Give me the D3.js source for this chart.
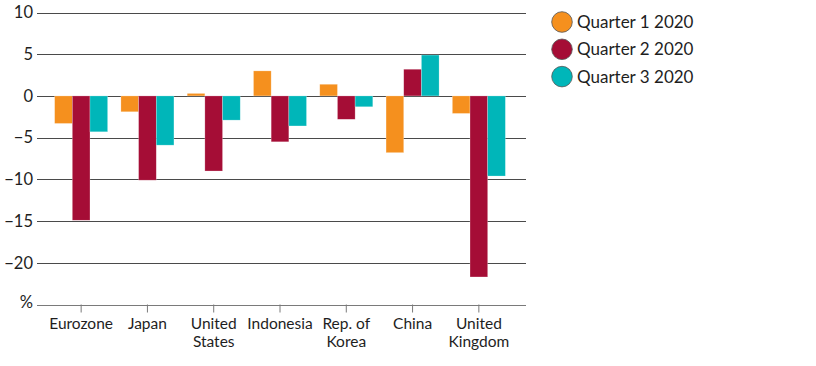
<!DOCTYPE html>
<html><head><meta charset="utf-8">
<script src="https://cdn.jsdelivr.net/npm/d3@7"></script>
<style>body{margin:0;background:#fff}svg{display:block}text{font-family:Lato,"Open Sans",sans-serif;font-weight:400;fill:#1e1e1e}</style>
</head><body><svg id="c" width="816" height="366"></svg>
<script>
const categories = [["Eurozone"],["Japan"],["United","States"],["Indonesia"],["Rep. of","Korea"],["China"],["United","Kingdom"]];
const seriesNames = ["Quarter 1 2020","Quarter 2 2020","Quarter 3 2020"];
const q1 = [-3.3, -1.9, 0.3, 3.0, 1.4, -6.8, -2.1];
const q2 = [-14.9, -10.1, -9.0, -5.5, -2.8, 3.2, -21.7];
const q3 = [-4.3, -5.9, -2.9, -3.6, -1.3, 4.9, -9.6];
const yTicks = [10, 5, 0, -5, -10, -15, -20];
const colors = ["#F5901E", "#A50D36", "#00B6B9"];

const svg = d3.select("#c");
const x0 = d3.scaleBand().domain(d3.range(categories.length)).range([48, 512]).paddingInner(0.2).paddingOuter(0.1);
const x1 = d3.scaleBand().domain(d3.range(3)).range([0, x0.bandwidth()]);
const y = d3.scaleLinear().domain([-25, 10]).range([304.5, 12.5]);

// gridlines
const gx0 = 37, gx1 = 526;
svg.append("g").selectAll("line").data(yTicks).join("line")
  .attr("x1", gx0).attr("x2", gx1)
  .attr("y1", d => Math.round(y(d)) + 0.5).attr("y2", d => Math.round(y(d)) + 0.5)
  .attr("stroke", "#4a4a4a").attr("stroke-width", 1);
// y labels
svg.append("g").selectAll("text").data(yTicks).join("text")
  .attr("x", 33).attr("y", d => y(d)).attr("dy", "0.35em").attr("text-anchor", "end")
  .attr("font-size", 16.5)
  .text(d => d < 0 ? "\u2212" + Math.abs(d) : d);
svg.append("text").attr("x", 33).attr("y", y(-25)).attr("dy", "0.2em").attr("text-anchor", "end")
  .attr("font-size", 16.5).text("%");

// bars
const data = [q1, q2, q3];
data.forEach((s, si) => {
  svg.append("g").selectAll("rect").data(s).join("rect")
    .attr("x", (d, i) => x0(i) + x1(si))
    .attr("width", x1.bandwidth())
    .attr("y", d => y(Math.max(0, d)))
    .attr("height", d => Math.abs(y(d) - y(0)))
    .attr("fill", colors[si])
    .attr("stroke", "#fff").attr("stroke-opacity", 0.4).attr("stroke-width", 0.6);
});

// x axis
const xa = svg.append("g");
xa.append("line").attr("x1", gx0).attr("x2", gx1).attr("y1", Math.round(y(-25)) + 0.5).attr("y2", Math.round(y(-25)) + 0.5)
  .attr("stroke", "#7a7a7a");
categories.forEach((c, i) => {
  const cx = x0(i) + x0.bandwidth() / 2;
  xa.append("line").attr("x1", cx).attr("x2", cx).attr("y1", y(-25)).attr("y2", y(-25) + 8).attr("stroke", "#7a7a7a");
  const t = xa.append("text").attr("x", cx).attr("y", 329).attr("text-anchor", "middle").attr("font-size", 15.5);
  c.forEach((ln, j) => t.append("tspan").attr("x", cx).attr("dy", j === 0 ? 0 : 17.5).text(ln));
});

// legend
const lg = svg.append("g");
seriesNames.forEach((n, i) => {
  const cy = 22 + i * 27.3;
  lg.append("circle").attr("cx", 562).attr("cy", cy).attr("r", 10.3).attr("fill", colors[i]).attr("stroke", "#555").attr("stroke-width", 0.8);
  lg.append("text").attr("x", 577).attr("y", cy).attr("dy", "0.36em").attr("font-size", 17).text(n);
});
</script></body></html>
